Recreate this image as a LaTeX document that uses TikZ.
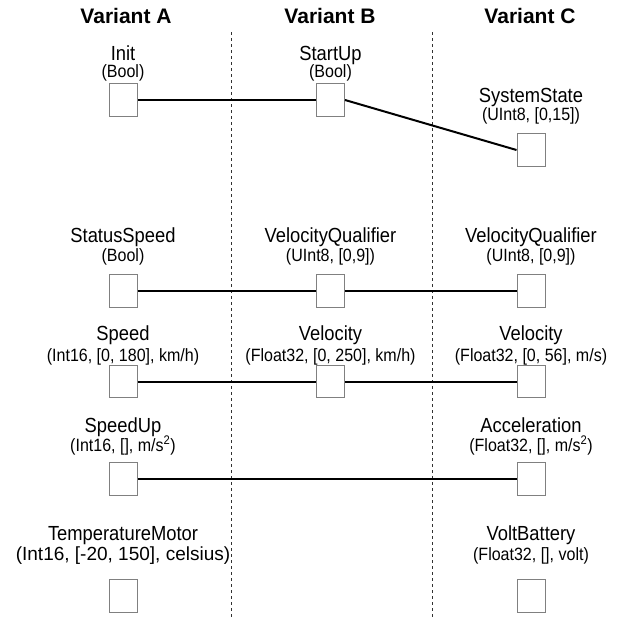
\documentclass[tikz,border=0pt]{standalone}
\usepackage{fontspec}
\setmainfont{Liberation Sans}
\newfontfamily\narrowsans[FakeStretch=0.9]{Liberation Sans}
\definecolor{boxline}{RGB}{128,128,128}
\definecolor{sepline}{RGB}{50,50,50}
\tikzset{
  ttl/.style ={font=\fontsize{21}{25}\selectfont\bfseries, inner sep=0pt, anchor=base},
  sig/.style ={font=\narrowsans\fontsize{20.4}{24}\selectfont, inner sep=0pt, anchor=base},
  typ/.style ={font=\narrowsans\fontsize{17.8}{21}\selectfont, inner sep=0pt, anchor=base},
  box/.style ={draw=boxline, fill=white, line width=1pt, minimum width=28pt, minimum height=32.5pt, inner sep=0pt},
  lnk/.style ={draw=black, line width=2pt},
  sep/.style ={draw=sepline, line width=0.8pt, dashed},
}

\begin{document}
\begin{tikzpicture}[x=1pt,y=-1pt]
  \useasboundingbox (0,0) rectangle (623,621);
  % column heads and separators
  \node[ttl] (hdA) at (126,23) {Variant A};
  \node[ttl] (hdB) at (330,23) {Variant B};
  \node[ttl] (hdC) at (530,23) {Variant C};
  \draw[sep] (231,32) -- (231,617);
  \draw[sep] (432,32) -- (432,617);
  % row 1
  \node[sig] (nInit) at (123,60) {Init};
  \node[typ] (tInit) at (123,77) {(Bool)};
  \node[box] (bInit) at (123.5,100) {};
  \node[sig] (nStartUp) at (330.5,60) {StartUp};
  \node[typ] (tStartUp) at (330.5,77) {(Bool)};
  \node[box] (bStartUp) at (330.5,100) {};
  \node[sig] (nState) at (531,102) {SystemState};
  \node[typ] (tState) at (531,120) {(UInt8, [0,15])};
  \node[box] (bState) at (531,150) {};
  % row 2
  \node[sig] (nStatus) at (123,242) {StatusSpeed};
  \node[typ] (tStatus) at (123,261) {(Bool)};
  \node[box] (bStatus) at (123,291) {};
  \node[sig] (nQualB) at (330.5,242) {VelocityQualifier};
  \node[typ] (tQualB) at (330.5,261) {(UInt8, [0,9])};
  \node[box] (bQualB) at (330.5,291) {};
  \node[sig] (nQualC) at (531,242) {VelocityQualifier};
  \node[typ] (tQualC) at (531,261) {(UInt8, [0,9])};
  \node[box] (bQualC) at (531,291) {};
  % row 3
  \node[sig] (nSpeed) at (123,340) {Speed};
  \node[typ] (tSpeed) at (123,361) {(Int16, [0, 180], km/h)};
  \node[box] (bSpeed) at (123,381.7) {};
  \node[sig] (nVelB) at (330.5,340) {Velocity};
  \node[typ] (tVelB) at (330.5,361) {(Float32, [0, 250], km/h)};
  \node[box] (bVelB) at (330.5,381.7) {};
  \node[sig] (nVelC) at (531,340) {Velocity};
  \node[typ] (tVelC) at (531,361) {(Float32, [0, 56], m/s)};
  \node[box] (bVelC) at (531,381.7) {};
  % row 4
  \node[sig] (nSpeedUp) at (123,432) {SpeedUp};
  \node[typ] (tSpeedUp) at (123,451) {(Int16, [], m/s\textsuperscript{2})};
  \node[box] (bSpeedUp) at (123,479) {};
  \node[sig] (nAcc) at (531,432) {Acceleration};
  \node[typ] (tAcc) at (531,451) {(Float32, [], m/s\textsuperscript{2})};
  \node[box] (bAcc) at (531,479) {};
  % row 5
  \node[sig] (nTemp) at (123,540) {TemperatureMotor};
  \node[typ,font=\fontsize{19}{22}\selectfont] (tTemp) at (123,560) {(Int16, [-20, 150], celsius)};
  \node[box] (bTemp) at (123,596) {};
  \node[sig] (nVolt) at (531,540) {VoltBattery};
  \node[typ] (tVolt) at (531,560) {(Float32, [], volt)};
  \node[box] (bVolt) at (531,596) {};
  % links
  \draw[lnk] (bInit.east) -- (bStartUp.west);
  \draw[lnk] (bStartUp.east) -- (bState.west);
  \draw[lnk] (bStatus.east) -- (bQualB.west);
  \draw[lnk] (bQualB.east) -- (bQualC.west);
  \draw[lnk] (bSpeed.east) -- (bVelB.west);
  \draw[lnk] (bVelB.east) -- (bVelC.west);
  \draw[lnk] (bSpeedUp.east) -- (bAcc.west);
\end{tikzpicture}
\end{document}
